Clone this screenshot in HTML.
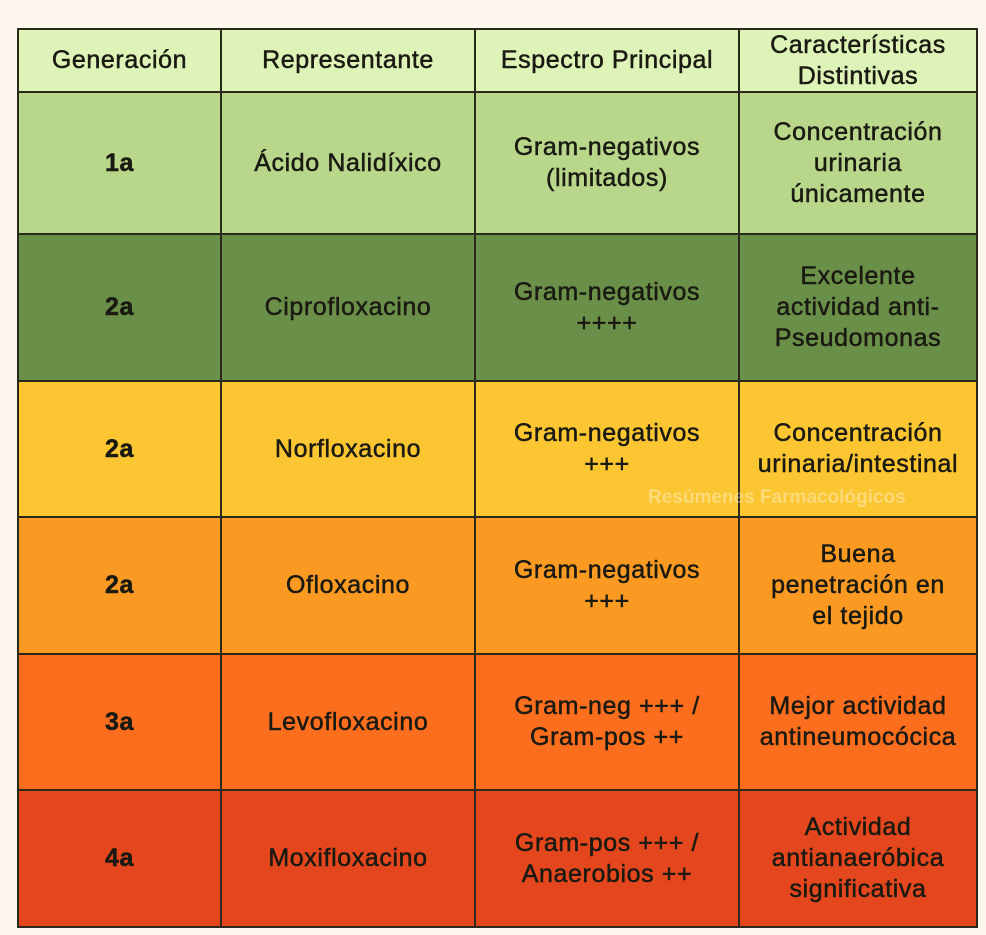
<!DOCTYPE html>
<html><head><meta charset="utf-8"><style>
body{margin:0;width:986px;height:935px;background:#fdf6ec;font-family:"Liberation Sans",sans-serif;position:relative;overflow:hidden}
.c{position:absolute;display:flex;align-items:center;justify-content:center;text-align:center;font-size:25px;letter-spacing:0.6px;line-height:31px;color:#1a1a12;box-sizing:border-box;border-right:2px solid #2a2a1c;border-bottom:2px solid #2a2a1c;-webkit-text-stroke:0.5px #1a1a12}
.b{font-weight:bold}
#wm{position:absolute;left:648px;top:487px;font-size:19px;font-weight:bold;color:rgba(255,255,255,0.35)}
</style></head><body>
<div id="wm">Resúmenes Farmacológicos</div>
<script>
const cols=[17,222,476,740,978];
const rows=[28,93,235,382,518,655,791,928];
const colors=['#def3b8','#b8d78b','#6a8f48','#fbc631','#fb9a22','#fb6e1e','#e4471d'];
const data=[
['Generación','Representante','Espectro Principal','Características<br>Distintivas'],
['1a','Ácido Nalidíxico','Gram-negativos<br>(limitados)','Concentración<br>urinaria<br>únicamente'],
['2a','Ciprofloxacino','Gram-negativos<br>++++','Excelente<br>actividad anti-<br>Pseudomonas'],
['2a','Norfloxacino','Gram-negativos<br>+++','Concentración<br>urinaria/intestinal'],
['2a','Ofloxacino','Gram-negativos<br>+++','Buena<br>penetración en<br>el tejido'],
['3a','Levofloxacino','Gram-neg +++ /<br>Gram-pos ++','Mejor actividad<br>antineumocócica'],
['4a','Moxifloxacino','Gram-pos +++ /<br>Anaerobios ++','Actividad<br>antianaeróbica<br>significativa']];
const names=['generation','representative','spectrum','features'];
const wm=document.getElementById('wm');
for(let r=0;r<data.length;r++){for(let c=0;c<4;c++){
const d=document.createElement('div');d.className='c'+(c==0&&r>0?' b':'');


let l=cols[c],t=rows[r];
if(c==0){d.style.borderLeft='2px solid #2a2a1c';}
if(r==0){d.style.borderTop='2px solid #2a2a1c';}
if(c>0)l-=2; if(r>0)t-=2;
d.style.left=l+'px';d.style.top=t+'px';d.style.width=(cols[c+1]-l)+'px';d.style.height=(rows[r+1]-t)+'px';
d.style.background=colors[r];d.innerHTML=data[r][c];
if(c>0)d.style.borderLeft='2px solid transparent';
if(r>0)d.style.borderTop='2px solid transparent';
d.style.backgroundClip='padding-box';
document.body.insertBefore(d,wm);}}
</script>
</body></html>
